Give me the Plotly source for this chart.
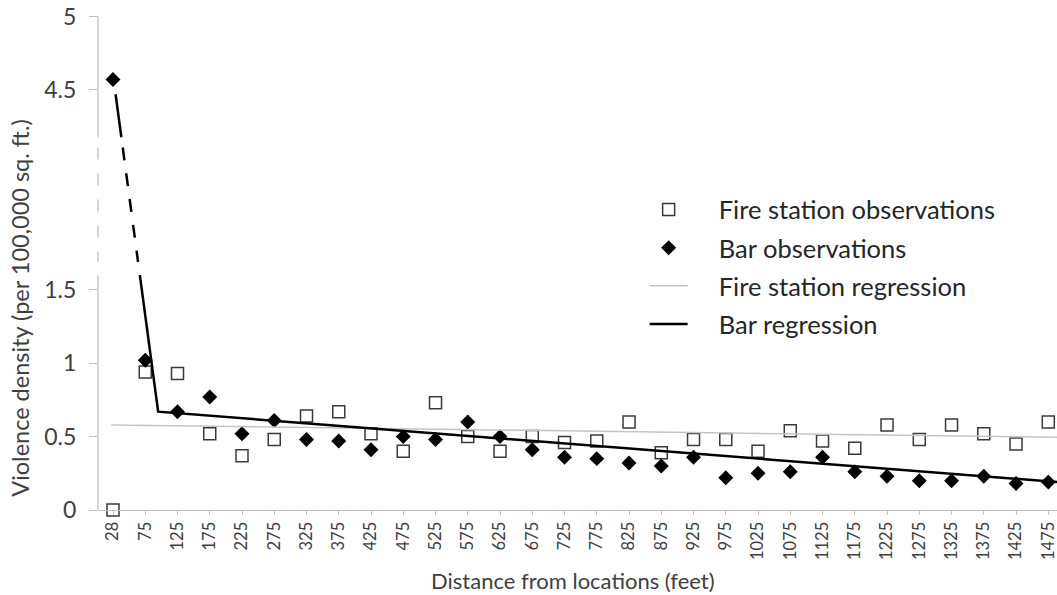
import numpy as np
import plotly.graph_objects as go

# ---------------- data ----------------
distance_labels = ["28", "75", "125", "175", "225", "275", "325", "375", "425", "475",
                   "525", "575", "625", "675", "725", "775", "825", "875", "925", "975",
                   "1025", "1075", "1125", "1175", "1225", "1275", "1325", "1375", "1425", "1475"]

fire_obs = [0.00, 0.94, 0.93, 0.52, 0.37, 0.48, 0.64, 0.67, 0.52, 0.40,
            0.73, 0.50, 0.40, 0.50, 0.46, 0.47, 0.60, 0.39, 0.48, 0.48,
            0.40, 0.54, 0.47, 0.42, 0.58, 0.48, 0.58, 0.52, 0.45, 0.60]

bar_obs = [4.57, 1.02, 0.67, 0.77, 0.52, 0.61, 0.48, 0.47, 0.41, 0.50,
           0.48, 0.60, 0.50, 0.41, 0.36, 0.35, 0.32, 0.30, 0.36, 0.22,
           0.25, 0.26, 0.36, 0.26, 0.23, 0.20, 0.20, 0.23, 0.18, 0.19]

# regression lines (x in category-position units, y in violence density)
fire_reg_x = [-0.05, 29.3]
fire_reg_y = [0.58, 0.495]
bar_reg_x = [0.08, 1.40, 29.3]
bar_reg_y = [4.47, 0.67, 0.19]

y_tick_values = [0, 0.5, 1, 1.5, 4.5, 5]
y_tick_labels = ["0", "0.5", "1", "1.5", "4.5", "5"]

legend_names = ["Fire station observations", "Bar observations",
                "Fire station regression", "Bar regression"]

# ---------------- broken-axis mapping ----------------
BREAK_LOW = 1.5
BREAK_HIGH = 4.5
UPPER_START = 2.863           # display position of BREAK_HIGH
SHIFT = BREAK_HIGH - UPPER_START


def to_disp(v):
    v = np.asarray(v, dtype=float)
    return np.where(v <= BREAK_LOW, v, v - SHIFT)


Y_TOP = float(to_disp(5.0)) + 0.003
SOLID_TOP_END = 2.54
DASH_START = 2.47
DASH_END = 1.69
SOLID_BOTTOM_START = 1.60

x_pos = np.arange(len(distance_labels))

TEXT = "#404040"
AXIS = "#bfbfbf"
FONT = "Lato, 'Open Sans', sans-serif"
PAD = "\u00a0" * 4


def lg(name):
    return PAD + name


fig = go.Figure()

# observations
fig.add_trace(go.Scatter(
    x=x_pos, y=to_disp(fire_obs), mode="markers", name=lg(legend_names[0]),
    marker=dict(symbol="square", size=12, color="white", line=dict(color="#3a3a3a", width=1.5)),
    cliponaxis=False, legendgroup="g1"))
fig.add_trace(go.Scatter(
    x=x_pos, y=to_disp(bar_obs), mode="markers", name=lg(legend_names[1]),
    marker=dict(symbol="diamond", size=11.5, color="black", line=dict(width=0)),
    cliponaxis=False, legendgroup="g2"))

# fire regression
fig.add_trace(go.Scatter(
    x=fire_reg_x, y=to_disp(fire_reg_y), mode="lines", name=lg(legend_names[2]),
    line=dict(color="#c4c4c4", width=1.5), legendgroup="g3"))

# bar regression: split first segment across the axis break
bx0, bx1 = bar_reg_x[0], bar_reg_x[1]
bd0, bd1 = float(to_disp(bar_reg_y[0])), float(to_disp(bar_reg_y[1]))


def x_at(d):
    return bx0 + (bd0 - d) / (bd0 - bd1) * (bx1 - bx0)


fig.add_trace(go.Scatter(
    x=[bx0, x_at(SOLID_TOP_END)], y=[bd0, SOLID_TOP_END], mode="lines",
    line=dict(color="black", width=2.5), showlegend=False, legendgroup="g4", hoverinfo="skip"))
fig.add_trace(go.Scatter(
    x=[x_at(DASH_START), x_at(DASH_END)], y=[DASH_START, DASH_END], mode="lines",
    line=dict(color="black", width=2.5, dash="13px,13px"), showlegend=False, legendgroup="g4",
    hoverinfo="skip"))
fig.add_trace(go.Scatter(
    x=[x_at(SOLID_BOTTOM_START)] + bar_reg_x[1:],
    y=[SOLID_BOTTOM_START] + list(to_disp(bar_reg_y[1:])), mode="lines", name=lg(legend_names[3]),
    line=dict(color="black", width=2.5), legendgroup="g4"))

# y axis line with break
shapes = [
    dict(type="line", xref="paper", yref="y", x0=0, x1=0, y0=SOLID_TOP_END, y1=Y_TOP,
         line=dict(color=AXIS, width=1.3)),
    dict(type="line", xref="paper", yref="y", x0=0, x1=0, y0=DASH_START, y1=DASH_END,
         line=dict(color=AXIS, width=1.3, dash="12px,14px")),
    dict(type="line", xref="paper", yref="y", x0=0, x1=0, y0=0, y1=SOLID_BOTTOM_START,
         line=dict(color=AXIS, width=1.3)),
]

annotations = [
    dict(text="Violence density (per 100,000 sq. ft.)", textangle=-90, xref="paper", yref="paper",
         x=-0.081, y=0.41, xanchor="center", yanchor="middle", showarrow=False,
         font=dict(family=FONT, size=23.5, color=TEXT)),
    dict(text="Distance from locations (feet)", xref="paper", yref="paper",
         x=0.495, y=-0.142, xanchor="center", yanchor="middle", showarrow=False,
         font=dict(family=FONT, size=22, color=TEXT)),
]

fig.update_layout(
    width=1057, height=595,
    margin=dict(l=98, r=0, t=16, b=85),
    paper_bgcolor="white", plot_bgcolor="white",
    font=dict(family=FONT, color=TEXT),
    showlegend=True,
    legend=dict(x=0.57, y=0.655, xanchor="left", yanchor="top", bgcolor="rgba(0,0,0,0)",
                font=dict(family=FONT, size=25.5, color="#262626"), itemwidth=38,
                tracegroupgap=2, traceorder="grouped"),
    shapes=shapes, annotations=annotations,
    xaxis=dict(range=[-0.465, 29.27], tickmode="array", tickvals=list(x_pos),
               ticktext=distance_labels, tickangle=-90, ticks="outside", ticklen=4,
               tickcolor=AXIS, showline=True, linecolor=AXIS, linewidth=1.3,
               showgrid=False, zeroline=False, ticklabeloverflow="allow",
               tickfont=dict(family=FONT, size=16.5, color=TEXT)),
    yaxis=dict(range=[0, Y_TOP], tickmode="array", tickvals=list(to_disp(y_tick_values)),
               ticktext=y_tick_labels, ticks="outside", ticklen=8, tickcolor=AXIS,
               showline=False, showgrid=False, zeroline=False, ticklabelstandoff=8,
               tickfont=dict(family=FONT, size=23, color=TEXT)),
)

fig.write_html("out.html", config={"displayModeBar": False},
               post_script="document.body.style.margin='0px';document.body.style.overflow='hidden';")
